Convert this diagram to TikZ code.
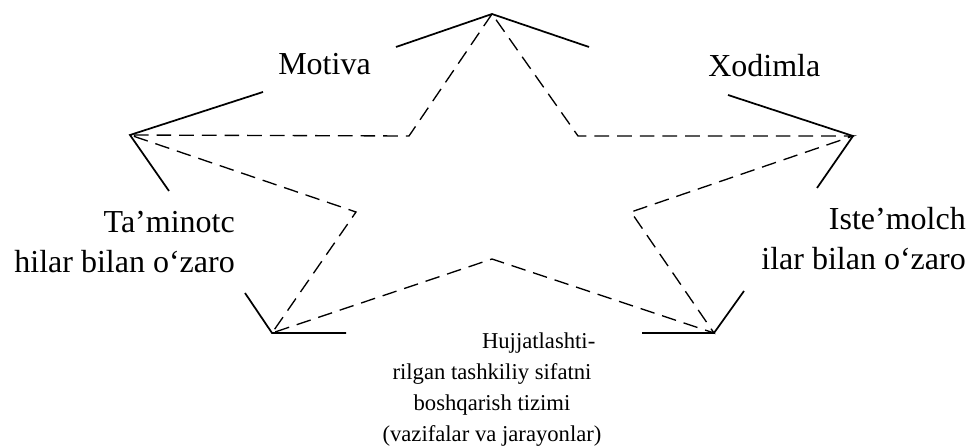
\documentclass[tikz,border=0pt]{standalone}
\usepackage{fontspec}
\setmainfont{Liberation Serif}

\begin{document}
\begin{tikzpicture}[x=0.75pt,y=-0.75pt,
	rim/.style={line width=1.3pt},
	ray/.style={line width=1pt, dash pattern=on 11pt off 6pt},
	big/.style={font=\fontsize{24}{30}\selectfont, inner sep=0pt},
	small/.style={font=\fontsize{17}{23.25}\selectfont, inner sep=0pt}]
			\useasboundingbox (0,0) rectangle (975,448);
				% outer points of the star
				\coordinate(T) at (492,14);
				\coordinate(L) at (130,135);
				\coordinate(R) at (853,136);
				\coordinate(BL) at (272,333);
				\coordinate(BR) at (714,333);
				% inner points
				\coordinate(IL) at (409,136);
				\coordinate(IR) at (578,136);
				\coordinate(ILL) at (356,212);
				\coordinate(IRR) at (631,212);
				\coordinate(IB) at (492,259);
				\draw[ray](T)--(IL)--(L)--(ILL)--(BL)--(IB)--(BR)--(IRR)--(R)--(IR)--cycle;
				% free ends of the solid strokes
				\coordinate(T1) at (396,47);
				\coordinate(T2) at (589,47);
				\coordinate(L1) at (263,92);
				\coordinate(L2) at (169,191);
				\coordinate(R1) at (728,95);
				\coordinate(R2) at (817,188);
				\coordinate(BL1) at (245,293);
				\coordinate(BL2) at (346,333);
				\coordinate(BR1) at (744,291);
				\coordinate(BR2) at (642,333);
				\draw[rim](T1)--(T)--(T2);
				\draw[rim](L1)--(L)--(L2);
				\draw[rim](R1)--(R)--(R2);
				\draw[rim](BL1)--(BL)--(BL2);
				\draw[rim](BR1)--(BR)--(BR2);
				% labels (base = last line)
				\node[big, anchor=base west](mot) at (278,75) {Motiva};
				\node[big, anchor=base west](xod) at (708,77) {Xodimla};
				\node[big, anchor=base east, align=right](tam) at (235,273) {Ta’minotc\\hilar bilan o‘zaro};
				\node[big, anchor=base east, align=right](ist) at (966,270) {Iste’molch\\ilar bilan o‘zaro};
				\node[small, anchor=base, align=center](huj) at (492,442) {\hspace*{70pt}Hujjatlashti-\\rilgan tashkiliy sifatni\\boshqarish tizimi\\(vazifalar va jarayonlar)};
			\end{tikzpicture}
\end{document}
